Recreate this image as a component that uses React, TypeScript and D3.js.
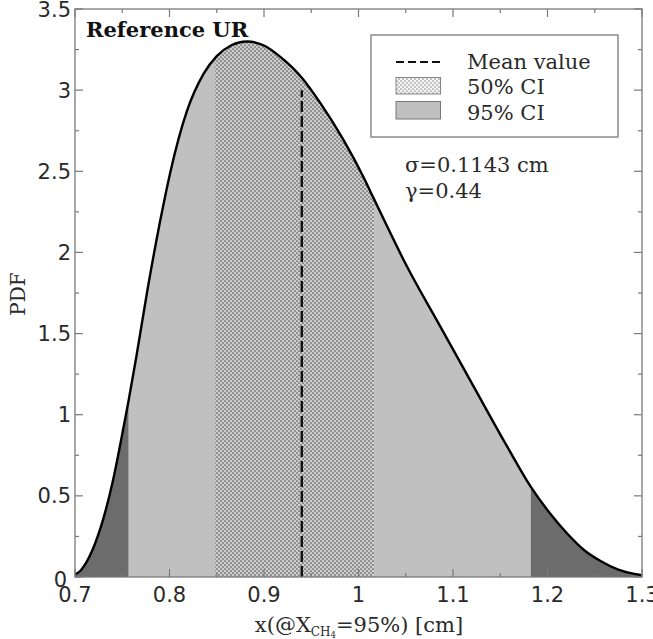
import React from "react";
import * as d3 from "d3";

// ---- data ----
const xValues = [0.700, 0.706, 0.712, 0.718, 0.724, 0.730, 0.740, 0.748, 0.7565, 0.765, 0.7767, 0.790, 0.8007, 0.8184, 0.836, 0.850, 0.865, 0.882, 0.900, 0.9173, 0.9396, 0.9597, 0.9844, 1.0056, 1.0163, 1.0516, 1.0869, 1.1222, 1.1577, 1.1824, 1.2036, 1.2213, 1.2389, 1.2566, 1.2742, 1.2918, 1.300];
const pdfValues = [0.015, 0.04, 0.09, 0.16, 0.25, 0.36, 0.59, 0.82, 1.08, 1.36, 1.77, 2.19, 2.49, 2.87, 3.10, 3.21, 3.275, 3.30, 3.275, 3.205, 3.08, 2.92, 2.69, 2.46, 2.33, 1.91, 1.54, 1.17, 0.80, 0.555, 0.385, 0.265, 0.165, 0.097, 0.047, 0.019, 0.011];
const ci95 = [0.7565, 1.1824];
const ci50 = [0.8484, 1.0163];
const meanValue = 0.94;
const meanTop = 3.0;
const xMajorTicks = [0.7, 0.8, 0.9, 1.0, 1.1, 1.2, 1.3];
const xTickLabels = ["0.7", "0.8", "0.9", "1", "1.1", "1.2", "1.3"];
const xMinorTicks = [0.75, 0.85, 0.95, 1.05, 1.15, 1.25];
const yMajorTicks = [0, 0.5, 1, 1.5, 2, 2.5, 3, 3.5];
const yTickLabels = ["0", "0.5", "1", "1.5", "2", "2.5", "3", "3.5"];
const yMinorTicks = [0.25, 0.75, 1.25, 1.75, 2.25, 2.75, 3.25];
const legendLabels = ["Mean value", "50% CI", "95% CI"];
const statLines = ["σ=0.1143 cm", "γ=0.44"];
const panelTitle = "Reference UR";

const W = 653, H = 639;
const L = 75, R = 642, T = 9, B = 577;
const axisColor = "#7a7a7a";
const textColor = "#2a2a2a";
const sans = "'DejaVu Sans', sans-serif";
const serif = "'DejaVu Serif', serif";

export default function App() {
  const x = d3.scaleLinear().domain([0.7, 1.3]).range([L, R]);
  const y = d3.scaleLinear().domain([0, 3.5]).range([B, T]);
  const pts = xValues.map((v, i) => [v, pdfValues[i]] as [number, number]);
  const line = d3.line<[number, number]>().x(d => x(d[0])).y(d => y(d[1])).curve(d3.curveMonotoneX);
  const area = d3.area<[number, number]>().x(d => x(d[0])).y0(y(0)).y1(d => y(d[1])).curve(d3.curveMonotoneX);
  const areaPath = area(pts) || "";
  const linePath = line(pts) || "";

  const majorLen = 8, minorLen = 4;

  return (
    <div style={{ position: "absolute", left: 0, top: 0 }}>
      <svg width={W} height={H} viewBox={`0 0 ${W} ${H}`} style={{ display: "block", background: "#fff" }}>
        <defs>
          <pattern id="dots" width={4} height={4} patternUnits="userSpaceOnUse">
            <circle cx={1} cy={1} r={0.85} fill="#555" />
            <circle cx={3} cy={3} r={0.85} fill="#555" />
          </pattern>
          <clipPath id="clipAll"><rect x={L} y={T} width={R - L} height={B - T} /></clipPath>
          <clipPath id="clip95"><rect x={x(ci95[0])} y={T} width={x(ci95[1]) - x(ci95[0])} height={B - T} /></clipPath>
          <clipPath id="clip50"><rect x={x(ci50[0])} y={T} width={x(ci50[1]) - x(ci50[0])} height={B - T} /></clipPath>
        </defs>

        {/* fills */}
        <path d={areaPath} fill="#6c6c6c" clipPath="url(#clipAll)" />
        <path d={areaPath} fill="#c0c0c0" clipPath="url(#clip95)" />
        <path d={areaPath} fill="#cdcdcd" clipPath="url(#clip50)" />
        <path d={areaPath} fill="url(#dots)" clipPath="url(#clip50)" />

        {/* mean line */}
        <line x1={x(meanValue)} x2={x(meanValue)} y1={y(0)} y2={y(meanTop)} stroke="#111" strokeWidth={2.4} strokeDasharray="11,4" />

        {/* curve */}
        <path d={linePath} fill="none" stroke="#000" strokeWidth={2.4} clipPath="url(#clipAll)" />

        {/* frame */}
        <rect x={L} y={T} width={R - L} height={B - T} fill="none" stroke={axisColor} strokeWidth={1.3} />

        {/* x ticks */}
        {xMajorTicks.map((t, i) => (
          <g key={"xm" + i}>
            <line x1={x(t)} x2={x(t)} y1={B} y2={B - majorLen} stroke={axisColor} strokeWidth={1.2} />
            <line x1={x(t)} x2={x(t)} y1={T} y2={T + majorLen} stroke={axisColor} strokeWidth={1.2} />
            <text x={x(t)} y={602} textAnchor="middle" fontFamily={sans} fontSize={21} fill={textColor}>{xTickLabels[i]}</text>
          </g>
        ))}
        {xMinorTicks.map((t, i) => (
          <g key={"xn" + i}>
            <line x1={x(t)} x2={x(t)} y1={B} y2={B - minorLen} stroke={axisColor} strokeWidth={1.2} />
            <line x1={x(t)} x2={x(t)} y1={T} y2={T + minorLen} stroke={axisColor} strokeWidth={1.2} />
          </g>
        ))}
        {/* y ticks */}
        {yMajorTicks.map((t, i) => (
          <g key={"ym" + i}>
            <line x1={L} x2={L + majorLen} y1={y(t)} y2={y(t)} stroke={axisColor} strokeWidth={1.2} />
            <line x1={R} x2={R - majorLen} y1={y(t)} y2={y(t)} stroke={axisColor} strokeWidth={1.2} />
            <text x={t === 0 ? 67 : 71} y={y(t) + 7.6 + (t === 0 ? 2 : 0)} textAnchor="end" fontFamily={sans} fontSize={21} fill={textColor}>{yTickLabels[i]}</text>
          </g>
        ))}
        {yMinorTicks.map((t, i) => (
          <g key={"yn" + i}>
            <line x1={L} x2={L + minorLen} y1={y(t)} y2={y(t)} stroke={axisColor} strokeWidth={1.2} />
            <line x1={R} x2={R - minorLen} y1={y(t)} y2={y(t)} stroke={axisColor} strokeWidth={1.2} />
          </g>
        ))}

        {/* axis titles */}
        <text transform={`translate(25,294) rotate(-90)`} textAnchor="middle" fontFamily={serif} fontSize={20} fill={textColor}>PDF</text>
        <text x={359} y={632} textAnchor="middle" fontFamily={serif} fontSize={21} fill={textColor}>
          x(@X<tspan fontSize={12} dy={4}>CH</tspan><tspan fontSize={8.5} dy={2}>4</tspan><tspan dy={-6}>=95%) [cm]</tspan>
        </text>

        {/* panel title */}
        <text x={86} y={37} fontFamily={serif} fontWeight="bold" fontSize={21} fill="#111">{panelTitle}</text>

        {/* legend */}
        <rect x={371} y={35} width={247} height={102} fill="#fff" stroke={axisColor} strokeWidth={1.3} />
        <line x1={396} x2={441} y1={62} y2={62} stroke="#111" strokeWidth={2.2} strokeDasharray="8,4" />
        <text x={467} y={68.5} fontFamily={serif} fontSize={21} fill={textColor}>{legendLabels[0]}</text>
        <rect x={396} y={77.5} width={44.5} height={16.5} fill="#f4f4f4" stroke="#888" strokeWidth={1} />
        <rect x={396} y={77.5} width={44.5} height={16.5} fill="url(#dots)" opacity={0.6} />
        <text x={467} y={94} fontFamily={serif} fontSize={21} fill={textColor}>{legendLabels[1]}</text>
        <rect x={396} y={101.5} width={44.5} height={17.5} fill="#c0c0c0" stroke="#777" strokeWidth={1} />
        <text x={467} y={120} fontFamily={serif} fontSize={21} fill={textColor}>{legendLabels[2]}</text>

        {/* stats */}
        <text x={405} y={172} fontFamily={serif} fontSize={21} fill={textColor}>{statLines[0]}</text>
        <text x={405} y={198} fontFamily={serif} fontSize={21} fill={textColor}>{statLines[1]}</text>
      </svg>
    </div>
  );
}
